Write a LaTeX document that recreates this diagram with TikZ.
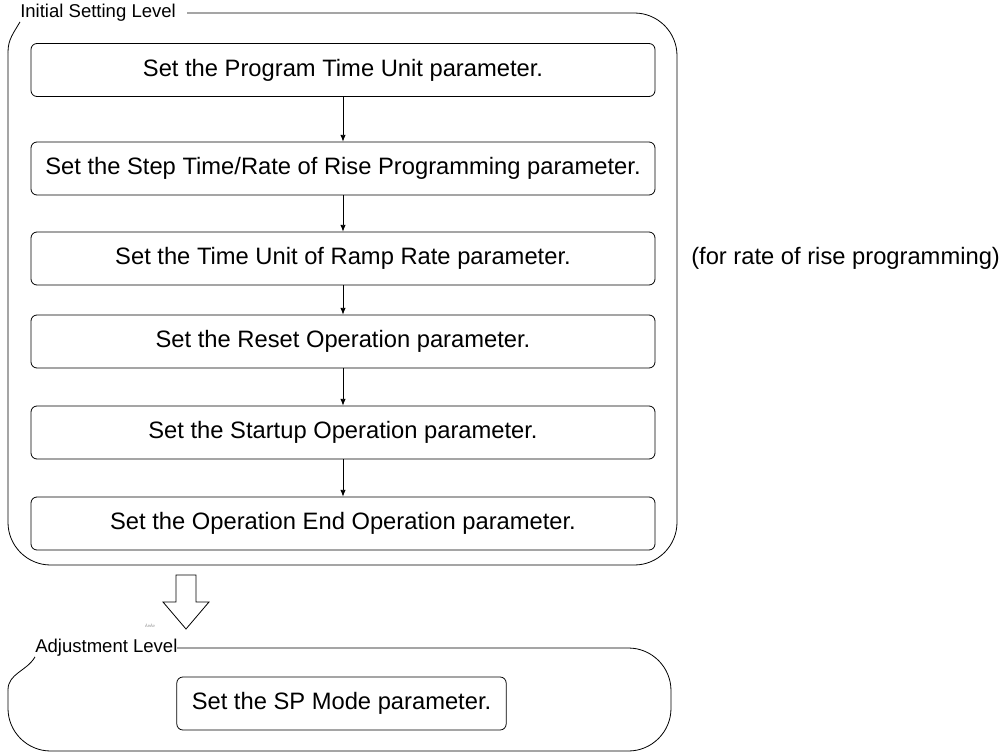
\documentclass[tikz,border=0pt]{standalone}
\usepackage{fontspec}
\setmainfont{Liberation Sans}
\usepackage{tikz}
\usetikzlibrary{arrows, arrows.meta, positioning}

\begin{document}
\begin{tikzpicture}[x=0.75pt,y=-0.75pt]

\tikzset{stepbox/.style = {shape=rectangle,draw,line width=0.6pt,rounded corners=4.5pt,minimum width=468pt,minimum height=39.75pt,inner sep=0pt,font=\fontsize{17.8}{20}\selectfont}}
\tikzset{level/.style = {anchor=west,inner sep=0pt,font=\fontsize{13.9}{16}\selectfont}}
\tikzset{frame/.style = {line width=0.6pt,rounded corners=32pt}}
\tikzset{outline/.style = {line width=0.6pt}}
\tikzset{flow/.style = {line width=0.6pt,->,> = {Latex[length=5pt,width=4pt]}}}
\useasboundingbox (0,0) rectangle (1004,753);
% levels
\node[level] (ini) at (20,13) {Initial Setting Level};
\node[level] (adj) at (35,648) {Adjustment Level};
\draw[frame] (187,13) -| (677,565) -| (8,52);
\draw[outline] (8,52) to[out=90,in=-120] (ini.south west);
\draw[frame] (177,648) -| (671,751) -| (8,690);
\draw[outline] (8,690) to[out=90,in=-120] (adj.south west);

% steps
\node[stepbox] (a) at (343,70) {Set the Program Time Unit parameter.};
\node[stepbox] (b) at (343,168.5) {Set the Step Time/Rate of Rise Programming parameter.};
\node[stepbox] (c) at (343,258.5) {Set the Time Unit of Ramp Rate parameter.};
\node[stepbox] (d) at (343,341.5) {Set the Reset Operation parameter.};
\node[stepbox] (e) at (343,432.5) {Set the Startup Operation parameter.};
\node[stepbox] (f) at (343,523.5) {Set the Operation End Operation parameter.};
\node[stepbox,minimum width=247pt] (s) at (341.5,703.5) {Set the SP Mode parameter.};
\node[anchor=west,inner sep=0pt,font=\fontsize{17.8}{20}\selectfont] (note) at (691,258.5) {(for rate of rise programming)};

%edges
\path[flow] (a) edge (b);
\path[flow] (b) edge (c);
\path[flow] (c) edge (d);
\path[flow] (d) edge (e);
\path[flow] (e) edge (f);

% level change
\draw[outline] (176,575) -- (196,575) -- (196,602) -- (209,602) -- (186,629) -- (163,602) -- (176,602) -- cycle;
\node[font=\fontsize{3}{3}\selectfont,text=gray,inner sep=0pt] (mark) at (150,626) {À¤À¤};
\end{tikzpicture}
\end{document}
